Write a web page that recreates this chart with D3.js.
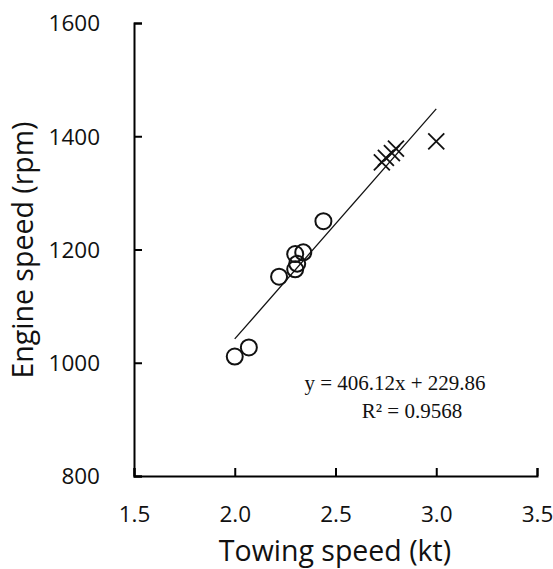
<!DOCTYPE html>
<html>
<head>
<meta charset="utf-8">
<script src="https://cdn.jsdelivr.net/npm/d3@7"></script>
<style>
  body { margin: 0; background: #fff; }
  svg { display: block; }
</style>
</head>
<body>
<svg id="chart" width="553" height="569"></svg>
<script>
// measured points, circles and crosses
var circleX = [2.00, 2.07, 2.22, 2.30, 2.31, 2.30, 2.34, 2.44];
var circleY = [1011, 1027, 1152, 1165, 1175, 1192, 1195, 1250];
var crossX = [2.73, 2.75, 2.78, 2.80, 3.00];
var crossY = [1354, 1362, 1370, 1378, 1391];
var xTicks = [1.5, 2.0, 2.5, 3.0, 3.5];
var yTicks = [800, 1000, 1200, 1400, 1600];
var fitSlope = 406.12, fitIntercept = 229.86, fitR2 = 0.9568;
var fitRange = [2.0, 3.0];

var svg = d3.select("#chart");
var x = d3.scaleLinear().domain([1.5, 3.5]).range([134, 537]);
var y = d3.scaleLinear().domain([800, 1600]).range([476, 23]);

var labelFont = "'Open Sans', 'Liberation Sans', sans-serif";

// y axis
var yAxis = svg.append("g").attr("transform", "translate(134,0)")
	.call(d3.axisRight(y).tickValues(yTicks).tickSize(8).tickFormat(d3.format("d")));
yAxis.select(".domain").attr("stroke", "#000").attr("stroke-width", 2);
yAxis.selectAll(".tick line").attr("stroke", "#000").attr("stroke-width", 2);
yAxis.selectAll(".tick text")
	.attr("x", -34).attr("dy", "0.35em")
	.attr("text-anchor", "end")
	.style("font-family", labelFont).style("font-size", "22.5px").attr("fill", "#111");

// x axis
var xAxis = svg.append("g").attr("transform", "translate(0,476)")
	.call(d3.axisTop(x).tickValues(xTicks).tickSize(8).tickFormat(d3.format(".1f")));
xAxis.select(".domain").attr("stroke", "#000").attr("stroke-width", 2);
xAxis.selectAll(".tick line").attr("stroke", "#000").attr("stroke-width", 2);
xAxis.selectAll(".tick text")
	.attr("y", 38).attr("dy", "0.35em")
	.style("font-family", labelFont).style("font-size", "22.5px").attr("fill", "#111");

// axis titles
svg.append("text")
	.attr("transform", "translate(33,250) rotate(-90)")
	.attr("text-anchor", "middle")
	.style("font-family", labelFont).style("font-size", "28.5px").attr("fill", "#111")
	.text("Engine speed (rpm)");
svg.append("text")
	.attr("x", 335).attr("y", 561)
	.attr("text-anchor", "middle")
	.style("font-family", labelFont).style("font-size", "28.5px").attr("fill", "#111")
	.text("Towing speed (kt)");

// trend line
svg.append("line")
	.attr("x1", x(fitRange[0])).attr("y1", y(fitSlope * fitRange[0] + fitIntercept))
	.attr("x2", x(fitRange[1])).attr("y2", y(fitSlope * fitRange[1] + fitIntercept))
	.attr("stroke", "#111").attr("stroke-width", 1.3);

// circles
svg.append("g").selectAll("circle")
	.data(circleX.map(function(d, i) { return [d, circleY[i]]; }))
	.enter().append("circle")
	.attr("cx", function(d) { return x(d[0]); })
	.attr("cy", function(d) { return y(d[1]); })
	.attr("r", 8)
	.attr("fill", "none").attr("stroke", "#111").attr("stroke-width", 2);

// crosses
var s = 8;
svg.append("g").selectAll("path")
	.data(crossX.map(function(d, i) { return [d, crossY[i]]; }))
	.enter().append("path")
	.attr("d", function(d) {
		var cx = x(d[0]), cy = y(d[1]);
		return "M" + (cx - s) + "," + (cy - s) + "L" + (cx + s) + "," + (cy + s) +
			"M" + (cx - s) + "," + (cy + s) + "L" + (cx + s) + "," + (cy - s);
	})
	.attr("fill", "none").attr("stroke", "#111").attr("stroke-width", 1.8);

// equation
var eq = svg.append("g").style("font-family", "'Liberation Serif', 'Times New Roman', serif")
	.style("font-size", "21px").attr("fill", "#111");
eq.append("text").attr("x", 395).attr("y", 390).attr("text-anchor", "middle")
	.text("y = " + fitSlope.toFixed(2) + "x + " + fitIntercept.toFixed(2));
eq.append("text").attr("x", 412).attr("y", 418).attr("text-anchor", "middle")
	.text("R\u00b2 = " + fitR2.toFixed(4));
</script>
</body>
</html>
